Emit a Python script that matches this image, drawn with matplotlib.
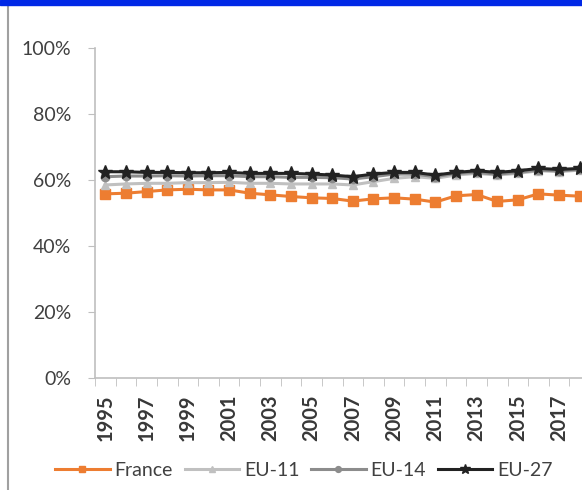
import matplotlib.pyplot as plt
from matplotlib.lines import Line2D
from matplotlib.patches import Rectangle

plt.rcParams['font.family'] = ['Lato', 'DejaVu Sans']

years = list(range(1995, 2019))
france = [55.8, 56.0, 56.5, 57.0, 57.2, 57.0, 57.0, 56.0, 55.5, 55.0, 54.6, 54.4, 53.6,
          54.3, 54.6, 54.2, 53.3, 55.2, 55.6, 53.5, 54.0, 55.8, 55.4, 55.1]
eu11 = [58.5, 58.8, 59.0, 59.0, 59.2, 59.2, 59.3, 59.0, 59.0, 58.8, 58.8, 58.8, 58.5,
        59.5, 60.5, 61.0, 60.5, 61.5, 62.0, 61.5, 62.0, 62.8, 62.5, 63.0]
eu14 = [61.0, 61.2, 61.2, 61.3, 61.2, 61.3, 61.3, 61.0, 61.0, 60.8, 60.8, 60.7, 60.3,
        61.0, 61.8, 61.8, 61.0, 62.0, 62.3, 61.8, 62.3, 63.0, 62.8, 63.2]
eu27 = [62.5, 62.5, 62.3, 62.3, 62.2, 62.2, 62.3, 62.0, 62.0, 62.0, 61.8, 61.5, 61.0,
        61.8, 62.3, 62.3, 61.5, 62.3, 62.8, 62.3, 62.8, 63.5, 63.2, 63.5]
yticks = [0, 20, 40, 60, 80, 100]

fig = plt.figure(figsize=(5.82, 4.90), dpi=100)
ax = fig.add_axes([95 / 582, 1 - 378 / 490, 495 / 582, 330 / 490])

x = list(range(len(years)))
ax.plot(x, [v / 100 for v in france], color='#ED7D31', lw=2.2, marker='s', ms=7, label='France', zorder=3)
ax.plot(x, [v / 100 for v in eu11], color='#C0C0C0', lw=2.2, marker='^', ms=6, label='EU-11', zorder=4)
ax.plot(x, [v / 100 for v in eu14], color='#8C8C8C', lw=2.2, marker='o', ms=6, label='EU-14', zorder=5)
ax.plot(x, [v / 100 for v in eu27], color='#222222', lw=2.2, marker='*', ms=10, label='EU-27', zorder=6)

ax.set_xlim(-0.5, len(years) - 0.5)
ax.set_ylim(0, 1)
ax.set_yticks([t / 100 for t in yticks])
ax.set_yticklabels([f'{t}%' for t in yticks], fontsize=14, color='#404040')
ax.tick_params(axis='y', length=5, color='#BFBFBF', pad=12)

ax.set_xticks(x[::2])
ax.set_xticklabels([str(y) for y in years[::2]], rotation=90, fontsize=14.5,
                   fontweight='bold', color='#383838')
ax.set_xticks([i - 0.5 for i in range(len(years) + 1)], minor=True)
ax.tick_params(axis='x', which='major', length=0, pad=12)
ax.tick_params(axis='x', which='minor', length=6, color='#BFBFBF')

for s in ['top', 'right']:
    ax.spines[s].set_visible(False)
for s in ['left', 'bottom']:
    ax.spines[s].set_color('#BFBFBF')
    ax.spines[s].set_linewidth(1.2)

leg = fig.legend(loc='center', bbox_to_anchor=(0.522, 1 - 470 / 490), ncol=4, frameon=False,
                 fontsize=14, handlelength=2.8, columnspacing=0.6, handletextpad=0.25,
                 markerscale=0.7)
for t in leg.get_texts():
    t.set_color('#404040')

# page decorations
fig.add_artist(Rectangle((0, 1 - 5 / 490), 1, 5 / 490, transform=fig.transFigure,
                         color='#0028E6', zorder=10))
fig.add_artist(Line2D([8 / 582, 8 / 582], [0, 1 - 5 / 490], transform=fig.transFigure,
                      color='#A0A0A0', lw=1.5))

fig.savefig('out.png', dpi=100)
